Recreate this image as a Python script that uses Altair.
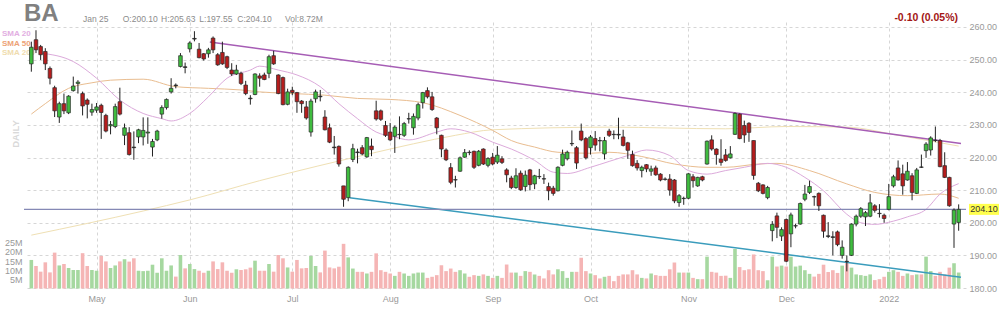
import altair as alt
import pandas as pd
import numpy as np

# ---------------- data ----------------
opens = [248.7,256.1,254.0,252.5,247.3,241.4,232.4,236.5,233.7,240.5,
         242.7,239.6,237.6,233.9,234.5,236.0,232.9,229.7,229.5,237.1,
         226.8,227.6,223.2,226.3,226.3,227.5,223.2,225.4,233.3,235.3,
         240.1,242.2,247.9,247.8,253.3,256.3,253.2,251.8,251.8,256.6,
         251.5,252.2,250.9,246.8,245.6,245.8,242.2,238.2,239.3,245.0,
         245.3,245.8,251.2,245.3,244.5,236.3,240.6,239.9,237.3,235.5,
         227.8,238.0,238.8,232.4,229.1,223.2,223.4,211.3,207.7,219.4,
         221.7,223.0,220.2,223.5,234.3,234.3,229.8,227.8,226.5,227.1,
         226.8,231.8,229.1,232.1,236.8,240.5,238.6,232.1,226.8,222.3,
         216.9,213.2,215.8,220.1,221.6,221.9,217.6,222.6,217.6,220.1,
         218.6,219.6,216.2,213.7,210.8,215.2,211.1,216.2,211.9,214.2,
         213.5,211.1,210.6,209.8,217.6,219.6,224.2,223.0,228.1,225.8,
         223.0,225.8,225.2,221.1,228.1,227.1,227.1,226.3,224.5,220.9,
         218.2,216.0,217.8,215.8,216.8,214.9,213.4,213.4,213.1,206.2,
         207.5,207.5,214.1,211.3,214.1,218.0,225.4,222.6,219.5,220.8,
         219.9,227.1,233.3,229.8,230.5,225.2,212.1,211.6,207.7,197.6,
         202.1,195.9,201.0,196.6,199.0,199.6,207.2,209.3,208.0,209.0,
         202.3,196.0,195.7,197.2,190.0,188.2,190.0,199.6,202.0,201.8,
         202.0,205.2,202.9,202.3,204.1,211.3,216.8,215.0,213.1,214.4,
         209.0,217.1,222.1,222.3,225.3,225.2,217.5,213.9,199.6,200.10]

highs = [255.5,259.0,254.5,253.5,247.9,242.0,237.1,239.6,239.1,244.8,
         243.7,240.2,238.1,236.5,236.7,236.5,233.4,231.2,236.5,241.4,
         230.4,229.3,228.0,228.8,232.3,232.3,225.7,228.5,236.0,238.1,
         244.3,242.7,252.0,249.1,255.6,258.7,255.1,252.0,253.6,257.1,
         252.0,255.5,251.2,248.9,248.4,246.3,243.5,239.1,245.8,245.8,
         246.0,251.5,252.7,245.5,244.8,241.1,241.7,240.1,237.6,237.3,
         238.0,240.8,240.7,234.5,230.4,226.6,223.7,211.3,217.3,224.2,
         222.7,223.8,226.3,225.8,237.4,234.7,231.2,230.6,229.8,232.6,
         230.9,233.7,233.5,236.8,240.1,241.5,240.1,232.4,227.0,222.8,
         218.3,214.4,220.3,222.6,222.2,222.1,222.3,222.8,220.1,221.4,
         223.5,220.4,216.7,214.4,216.7,216.0,216.0,216.5,214.7,216.5,
         214.9,212.3,211.3,217.3,222.4,222.1,228.3,223.5,230.4,226.3,
         226.9,228.1,226.3,226.3,228.8,228.3,232.2,228.5,224.8,222.1,
         219.2,217.5,218.0,217.5,217.5,215.2,213.9,214.9,213.4,208.8,
         208.0,215.2,214.9,214.1,214.4,225.2,226.8,222.8,225.6,222.6,
         223.5,233.8,233.5,231.3,230.8,225.2,212.5,211.8,211.3,200.5,
         203.1,198.6,201.3,203.1,199.7,206.2,211.6,212.9,208.3,209.3,
         202.5,200.2,197.4,197.6,194.6,190.0,199.8,202.5,204.8,203.6,
         208.8,205.7,205.7,202.8,211.9,214.7,219.1,217.8,218.6,215.2,
         216.8,220.9,224.7,226.5,229.5,225.7,221.6,214.1,204.4,205.63]

lows = [246.3,252.0,249.9,246.8,242.4,232.4,230.6,233.3,233.3,240.2,
        239.6,232.9,232.0,232.8,233.7,225.7,227.7,227.1,229.0,232.9,
        223.8,220.6,219.3,224.4,223.7,224.2,220.3,225.0,231.9,234.7,
        239.6,241.2,247.6,245.8,252.2,255.6,250.4,249.7,250.6,252.0,
        248.1,248.4,247.1,245.0,245.3,242.2,239.1,236.2,239.1,241.7,
        243.7,244.3,248.4,239.4,236.0,236.0,239.1,233.7,233.7,231.6,
        226.4,236.8,237.2,228.3,224.4,220.9,217.2,204.9,206.6,218.6,
        218.2,220.7,219.9,220.4,231.3,231.2,226.3,225.0,221.4,225.6,
        226.3,230.4,227.0,231.4,235.0,238.1,234.3,227.1,220.1,218.9,
        211.8,210.8,215.6,219.9,220.7,216.5,217.3,217.7,217.0,217.6,
        218.0,218.0,212.4,210.3,210.4,209.8,209.6,209.9,210.3,213.4,
        211.9,206.9,208.3,209.6,217.3,219.1,223.5,216.5,225.0,219.4,
        220.9,222.1,221.9,219.4,226.3,225.6,225.6,223.4,219.6,217.2,
        216.0,213.9,215.5,214.4,214.4,212.7,212.9,208.3,206.0,204.9,
        205.5,207.2,210.8,211.0,212.7,217.8,222.1,217.8,217.5,218.7,
        219.7,226.9,225.6,224.5,224.8,213.2,209.4,208.7,207.2,194.3,
        195.3,194.4,187.9,192.5,198.3,199.4,206.6,208.8,205.2,203.6,
        195.4,195.3,190.0,192.8,189.0,185.1,189.8,198.9,201.5,199.0,
        201.7,203.1,201.6,200.0,203.8,210.8,212.9,208.6,212.9,206.9,
        208.8,216.8,219.9,220.6,224.7,217.0,213.7,204.9,192.3,197.55]

closes = [253.8,253.0,251.5,248.7,244.3,234.3,236.5,234.3,238.8,241.9,
          243.1,235.8,236.3,234.7,235.5,233.8,228.1,230.1,235.6,233.3,
          229.1,220.9,223.0,228.5,228.3,227.8,224.9,228.1,235.3,237.8,
          241.2,242.0,251.2,247.6,255.1,256.5,250.6,250.2,253.0,253.0,
          248.4,248.7,247.6,245.6,246.8,242.7,239.6,238.0,245.6,244.3,
          243.9,250.9,248.7,239.6,236.2,240.1,239.9,237.1,236.5,232.1,
          237.3,240.1,238.6,228.5,224.7,223.0,218.0,207.2,217.0,222.7,
          221.5,221.1,226.1,222.4,231.8,231.7,226.8,225.4,229.3,227.0,
          230.4,231.9,232.6,236.2,239.9,238.6,234.7,229.1,222.6,219.3,
          212.4,213.1,219.9,221.5,221.5,217.0,221.9,218.0,219.7,218.0,
          220.7,218.5,214.7,210.8,214.4,210.1,214.6,211.7,214.4,214.1,
          213.4,209.8,209.0,217.0,221.1,221.6,224.3,218.3,225.4,219.9,
          226.3,223.8,225.1,225.2,226.8,227.0,226.9,223.7,222.2,217.5,
          216.8,217.0,216.5,216.5,214.7,213.1,213.3,210.0,206.7,208.3,
          207.4,215.0,212.9,213.9,213.1,225.0,222.6,220.9,218.5,219.1,
          221.1,233.5,225.8,226.9,227.7,214.5,209.8,209.0,210.8,199.5,
          198.6,197.9,188.2,202.4,199.1,205.9,208.8,211.1,207.9,205.2,
          197.4,195.8,195.5,193.3,192.5,188.1,199.6,202.0,204.3,203.1,
          206.1,203.8,202.8,201.3,208.0,214.1,213.1,211.3,215.8,209.3,
          216.2,217.0,224.1,226.0,225.2,217.2,213.9,205.2,203.9,204.10]

volumes_m = [15.6,12.3,9.2,14.3,8.8,19.6,12.6,13.4,11.2,10.1,
             10.1,19.3,12.3,10.1,9.7,17.8,14.8,11.2,12.6,14.8,
             16.0,14.7,16.5,9.7,9.5,9.7,13.0,8.6,16.5,9.7,
             12.6,6.5,18.3,11.0,13.4,10.6,9.7,8.6,9.7,14.8,
             10.6,14.3,9.7,8.6,10.5,10.1,10.5,11.4,15.2,9.7,
             9.7,13.4,9.2,18.3,16.5,11.5,9.2,15.6,11.0,11.2,
             17.8,12.3,8.8,20.7,11.5,11.0,11.9,24.4,17.0,10.9,
             9.1,9.1,8.2,9.1,19.2,10.0,9.1,8.2,6.9,9.1,
             8.2,6.9,8.2,8.7,8.7,5.8,6.4,7.3,12.7,9.5,
             10.9,9.1,10.0,8.2,6.4,7.3,6.9,7.7,6.9,5.8,
             6.9,5.8,13.1,8.7,8.7,6.9,9.5,9.1,7.7,6.9,
             5.5,10.0,7.7,10.5,9.5,5.8,9.1,9.1,16.8,9.5,
             8.2,7.3,5.5,6.4,6.9,4.0,6.9,7.7,7.7,10.0,
             7.7,5.8,5.5,8.2,7.3,6.9,6.9,10.5,14.2,8.7,
             8.7,8.7,5.8,5.1,5.1,17.4,9.1,8.7,6.9,7.0,
             5.8,21.6,11.7,10.0,10.5,18.6,10.0,9.5,4.5,17.4,
             12.0,12.5,12.0,17.4,12.0,12.5,10.0,8.0,6.5,8.0,
             13.0,9.0,10.0,8.5,12.5,14.3,11.4,7.7,7.3,6.9,
             7.7,4.6,5.1,6.4,9.1,10.0,9.1,6.9,8.2,7.3,
             7.7,7.7,17.4,9.5,6.9,9.1,7.7,11.4,13.8,8.72]

# trading-day index of each month's first session and its label
month_idx = [14, 34, 56, 77, 99, 120, 141, 162, 184]
month_lbl = ["May", "Jun", "Jul", "Aug", "Sep", "Oct", "Nov", "Dec", "2022"]

# moving averages (index, value)
sma20_idx = [2, 9, 14, 19, 24, 28, 30, 34, 38, 42, 47, 49, 53, 57, 62, 66, 70, 74, 78, 81,
             87, 90, 94, 99, 103, 108, 112, 115, 120, 124, 128, 132, 137, 141, 145, 149,
             153, 158, 162, 166, 170, 175, 178, 181, 185, 188, 192, 195, 199]
sma20_val = [252.0, 249.4, 244.3, 237.6, 233.5, 231.9, 231.2, 233.5, 238.6, 244.3, 246.8,
             248.0, 246.8, 245.3, 241.7, 236.5, 231.9, 227.8, 226.3, 225.4, 227.8, 228.8,
             227.8, 224.7, 222.6, 219.1, 215.5, 215.1, 217.0, 218.8, 220.6, 222.3, 220.6,
             216.0, 214.9, 216.0, 217.0, 218.2, 217.0, 213.9, 209.8, 202.6, 200.0, 199.5,
             200.5, 201.8, 204.1, 208.8, 212.0]
sma50_idx = [0, 3, 8, 13, 17, 24, 31, 38, 45, 49, 56, 63, 70, 77, 84, 92, 99, 103, 108,
             113, 120, 124, 131, 138, 145, 149, 156, 160, 167, 175, 181, 188, 195, 199]
sma50_val = [233.3, 236.5, 241.2, 242.9, 243.7, 244.0, 241.7, 241.2, 240.7, 240.1, 239.6,
             239.1, 238.1, 237.8, 236.8, 232.9, 228.3, 225.2, 223.2, 221.6, 221.3, 221.6,
             220.3, 218.0, 217.0, 217.0, 218.0, 218.2, 216.0, 211.9, 209.3, 208.3, 208.8,
             207.5]
sma200_idx = [0, 24, 34, 49, 74, 82, 91, 99, 124, 149, 162, 175, 186, 199]
sma200_val = [196.2, 203.6, 207.0, 212.9, 221.6, 224.2, 226.8, 228.5, 229.3, 228.8,
              229.5, 229.3, 226.8, 223.5]

# drawn trendlines (index, price)
resist_idx = [38.3, 199.5]
resist_val = [255.4, 224.3]
support_idx = [68.3, 199.5]
support_val = [207.7, 183.3]

last_price = 204.10
header = ["Jan 25", "O:200.10", "H:205.63", "L:197.55", "C:204.10", "Vol:8.72M"]
change_txt = "-0.10 (0.05%)"

# ---------------- frames ----------------
UP, DOWN, FLAT = "#3fbc3f", "#b51d1d", "#111111"
VUP, VDOWN = "#a6d8a0", "#f5b5b5"

o = np.array(opens); c = np.array(closes)
df = pd.DataFrame({
    "i": np.arange(len(closes)),
    "open": opens, "high": highs, "low": lows, "close": closes, "vol": volumes_m,
})
df["body_lo"] = np.minimum(o, c)
df["body_hi"] = np.maximum(o, c)
df["bcol"] = np.where(np.abs(c - o) <= 0.3, FLAT, np.where(c > o, UP, DOWN))
df["vcol"] = np.where(c >= o, VUP, VDOWN)

s20 = pd.DataFrame({"i": sma20_idx, "v": sma20_val})
s50 = pd.DataFrame({"i": sma50_idx, "v": sma50_val})
s200 = pd.DataFrame({"i": sma200_idx, "v": sma200_val})
res = pd.DataFrame({"i": resist_idx, "v": resist_val})
sup = pd.DataFrame({"i": support_idx, "v": support_val})
lastdf = pd.DataFrame({"p": [last_price], "t": [f"{last_price:.2f}"]})

FONT = "Liberation Sans"
W, H = 942, 268

lbl_expr = ("[" + ",".join(f"'{m}'" for m in month_lbl) + "][indexof(["
            + ",".join(str(v) for v in month_idx) + "], datum.value)]")
xscale = alt.Scale(domain=[-0.5, 199.5], nice=False, zero=False)
xaxis = alt.Axis(values=month_idx, labelExpr=lbl_expr, grid=True, gridDash=[3, 3],
                 gridColor="#d6d6d6", domain=False, ticks=False, labelColor="#999999",
                 labelFontSize=9, labelFont=FONT, labelPadding=4, title=None)
yscale = alt.Scale(domain=[179.39, 261.53], nice=False, zero=False)
yaxis = alt.Axis(orient="right", values=list(range(180, 261, 10)), format=".2f", grid=True,
                 gridDash=[3, 3], gridColor="#d6d6d6", domain=False, ticks=False,
                 labelColor="#999999", labelFontSize=9, labelFont=FONT, labelPadding=3,
                 title=None)
vscale = alt.Scale(domain=[-0.82, 145.6], nice=False, zero=False)
vaxis = alt.Axis(orient="left", values=[5, 10, 15, 20, 25], labelExpr="datum.value + 'M'",
                 grid=False, domain=False, ticks=False, labelColor="#999999",
                 labelFontSize=9, labelFont=FONT, labelPadding=2, title=None)


def X(f="i"):
    return alt.X(f"{f}:Q", scale=xscale, axis=xaxis)


def Y(f):
    return alt.Y(f"{f}:Q", scale=yscale, axis=yaxis)


# volume
vol = alt.Chart(df).mark_bar(size=3.6).encode(
    x=X(),
    y=alt.Y("vol:Q", scale=vscale, axis=vaxis),
    y2=alt.datum(0),
    fill=alt.Fill("vcol:N", scale=None),
)

# legend labels (behind candles)
leg_items = [("SMA 20", "#e2aee2"), ("SMA 50", "#eda276"), ("SMA 200", "#efdcae")]
leg_layers = []
for k, (t, col) in enumerate(leg_items):
    leg_layers.append(
        alt.Chart(pd.DataFrame({"t": [t]})).mark_text(
            align="left", baseline="middle", fontSize=8, fontWeight="bold", font=FONT,
            color=col).encode(x=alt.value(-22), y=alt.value(12 + 9.5 * k), text="t:N"))

daily = alt.Chart(pd.DataFrame({"t": ["DAILY"]})).mark_text(
    angle=270, fontSize=9.5, fontWeight="bold", font=FONT, color="#d9d9d9",
    baseline="middle", align="center").encode(x=alt.value(-8), y=alt.value(112), text="t:N")

l20 = alt.Chart(s20).mark_line(color="#dcaadb", strokeWidth=1, interpolate="monotone").encode(x=X(), y=Y("v"))
l50 = alt.Chart(s50).mark_line(color="#e9bd90", strokeWidth=1, interpolate="monotone").encode(x=X(), y=Y("v"))
l200 = alt.Chart(s200).mark_line(color="#efe0b4", strokeWidth=1, interpolate="monotone").encode(x=X(), y=Y("v"))
lres = alt.Chart(res).mark_line(color="#a65db5", strokeWidth=1.5).encode(x=X(), y=Y("v"))
lsup = alt.Chart(sup).mark_line(color="#3a9cbc", strokeWidth=1.5).encode(x=X(), y=Y("v"))
hline = alt.Chart(lastdf).mark_rule(color="#8589b5", strokeWidth=1.2).encode(y=Y("p"))

wicks = alt.Chart(df).mark_rule(color="#222222", strokeWidth=1).encode(
    x=X(), y=Y("low"), y2="high:Q")
bodies = alt.Chart(df).mark_bar(size=3.6, stroke="#2a2a2a", strokeWidth=0.7).encode(
    x=X(), y=Y("body_lo"), y2="body_hi:Q",
    fill=alt.Fill("bcol:N", scale=None),
)

tag_bg = alt.Chart(lastdf).mark_rule(color="#ffff4d", strokeWidth=11).encode(
    x=alt.value(945), x2=alt.value(975), y=Y("p"))
tag_tx = alt.Chart(lastdf).mark_text(fontSize=9, font=FONT, color="#333333",
                                     baseline="middle", align="center").encode(
    x=alt.value(960), y=Y("p"), text="t:N")

# header texts
hdr_layers = [
    alt.Chart(pd.DataFrame({"t": ["BA"]})).mark_text(
        align="left", baseline="middle", fontSize=24, fontWeight="bold", font=FONT,
        color="#808080").encode(x=alt.value(0), y=alt.value(-8), text="t:N")
]
hdr_x = [59, 98.7, 137, 175.3, 213.3, 261]
for t, xx in zip(header, hdr_x):
    hdr_layers.append(
        alt.Chart(pd.DataFrame({"t": [t]})).mark_text(
            align="left", baseline="middle", fontSize=8.5, font=FONT,
            color="#8c8c8c").encode(x=alt.value(xx), y=alt.value(-3), text="t:N"))
hdr_layers.append(
    alt.Chart(pd.DataFrame({"t": [change_txt]})).mark_text(
        align="right", baseline="middle", fontSize=10.5, fontWeight="bold", font=FONT,
        color="#a31515").encode(x=alt.value(934), y=alt.value(-4), text="t:N"))

price = alt.layer(*leg_layers, daily, l200, l50, l20, lres, lsup, hline, wicks, bodies,
                  tag_bg, tag_tx, *hdr_layers)

chart = alt.layer(vol, price).resolve_scale(y="independent").properties(
    width=W, height=H,
    padding={"left": 24, "top": 22, "right": 34, "bottom": 20},
    autosize=alt.AutoSizeParams(type="none"),
    background="#ffffff",
).configure_view(stroke=None)

chart.save("out.html", embed_options={"renderer": "svg", "actions": False})
